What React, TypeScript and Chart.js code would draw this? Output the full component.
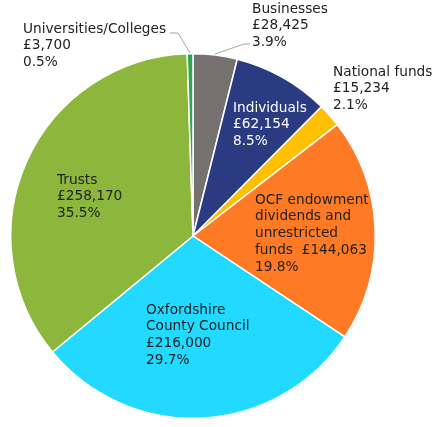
import React, { useEffect, useRef } from "react";
import { Chart, registerables } from "chart.js";

Chart.register(...registerables);

const categories = [
  "Businesses",
  "Individuals",
  "National funds",
  "OCF endowment\ndividends and\nunrestricted\nfunds",
  "Oxfordshire\nCounty Council",
  "Trusts",
  "Universities/Colleges",
];
const amounts = [28425, 62154, 15234, 144063, 216000, 258170, 3700];
const sliceColors = ["#767171", "#2B3B82", "#FFC000", "#FF7A24", "#22DAFF", "#8DB63C", "#2EA653"];

// label placement (layout only)
const labelLayout = [
  { x: 252, y: 9, color: "#222", inline: false, leader: [[250, 44], [244, 44], [215, 54]] },
  { x: 233, y: 108, color: "#ffffff", inline: false, leader: null },
  { x: 333, y: 72, color: "#222", inline: false, leader: null },
  { x: 255, y: 200, color: "#222", inline: true, leader: null },
  { x: 146, y: 310, color: "#222", inline: false, leader: null },
  { x: 57, y: 180, color: "#222", inline: false, leader: null },
  { x: 23, y: 29, color: "#222", inline: false, leader: [[170, 33], [178, 33], [190, 53]] },
];

const total = amounts.reduce((a, b) => a + b, 0);
const fmtMoney = (v: number) => "£" + v.toLocaleString("en-GB");
const fmtPct = (v: number) => ((v / total) * 100).toFixed(1) + "%";

const labelPlugin = {
  id: "sliceLabels",
  afterDraw(chart: any) {
    const ctx = chart.ctx;
    ctx.save();
    ctx.font = "13.7px 'DejaVu Sans', Verdana, sans-serif";
    ctx.textAlign = "left";
    ctx.textBaseline = "middle";
    const lh = 16.8;
    categories.forEach((cat, i) => {
      const lay = labelLayout[i];
      const nameLines = cat.split("\n");
      let lines: string[];
      if (lay.inline) {
        const last = nameLines.pop() as string;
        lines = [...nameLines, last + "  " + fmtMoney(amounts[i]), fmtPct(amounts[i])];
      } else {
        lines = [...nameLines, fmtMoney(amounts[i]), fmtPct(amounts[i])];
      }
      ctx.fillStyle = lay.color;
      lines.forEach((ln, k) => ctx.fillText(ln, lay.x, lay.y + k * lh));
      if (lay.leader) {
        ctx.strokeStyle = "#A6A6A6";
        ctx.lineWidth = 1;
        ctx.beginPath();
        lay.leader.forEach((p, k) => (k === 0 ? ctx.moveTo(p[0], p[1]) : ctx.lineTo(p[0], p[1])));
        ctx.stroke();
      }
    });
    ctx.restore();
  },
};

export default function App() {
  const ref = useRef<HTMLCanvasElement | null>(null);
  useEffect(() => {
    if (!ref.current) return;
    const chart = new Chart(ref.current, {
      type: "pie",
      data: {
        labels: categories.map((c) => c.replace(/\n/g, " ")),
        datasets: [
          {
            data: amounts,
            backgroundColor: sliceColors,
            borderColor: "#ffffff",
            borderWidth: 1.5,
          },
        ],
      },
      options: {
        animation: false,
        responsive: false,
        maintainAspectRatio: false,
        layout: { padding: { left: 10, right: 59, top: 53, bottom: 8 } },
        plugins: {
          legend: { display: false },
          tooltip: { enabled: false },
        },
      },
      plugins: [labelPlugin],
    });
    return () => chart.destroy();
  }, []);
  return (
    <div style={{ position: "absolute", left: 0, top: 0, width: 435, height: 427, background: "#fff" }}>
      <canvas ref={ref} width={435} height={427} />
    </div>
  );
}
